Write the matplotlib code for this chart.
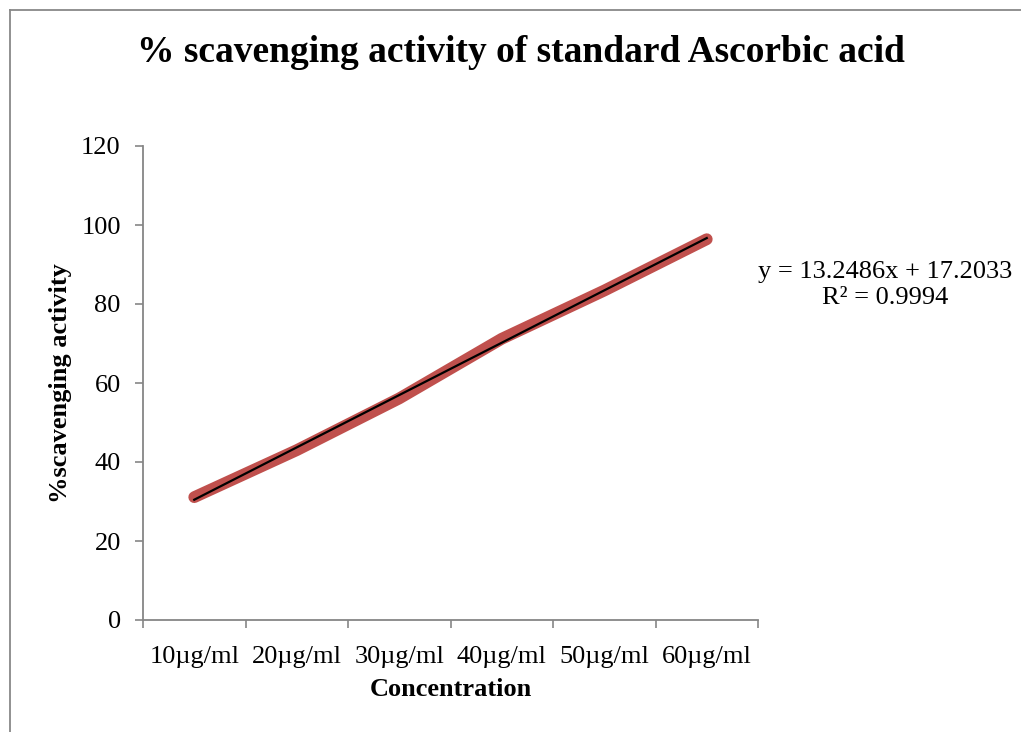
import matplotlib
matplotlib.use("Agg")
import matplotlib.pyplot as plt
from matplotlib.lines import Line2D
import numpy as np

plt.rcParams['font.family'] = ['Liberation Serif', 'DejaVu Serif']

categories = ["10µg/ml", "20µg/ml", "30µg/ml", "40µg/ml", "50µg/ml", "60µg/ml"]
scavenging = [31.1, 43.0, 56.1, 71.2, 83.4, 96.4]
trend_slope = 13.2486
trend_intercept = 17.2033
r_squared = 0.9994
y_ticks = [0, 20, 40, 60, 80, 100, 120]

W, H = 1021, 732
fig = plt.figure(figsize=(W / 100, H / 100), dpi=100)
L, R, T, B = 143, 758, 146, 620
ax = fig.add_axes([L / W, 1 - B / H, (R - L) / W, (B - T) / H])

x = np.arange(1, len(categories) + 1)
ax.plot(x, scavenging, color="#C0504D", lw=8.5, solid_capstyle="round",
        solid_joinstyle="round", zorder=2)
trend_y = trend_slope * x + trend_intercept
ax.plot(x, trend_y, color="black", lw=1.6, zorder=3)

ax.set_xlim(0.5, len(categories) + 0.5)
ax.set_ylim(0, 120)
ax.set_yticks(y_ticks)
ax.set_yticklabels([str(v) for v in y_ticks])
ax.set_xticks(np.arange(0.5, len(categories) + 1, 1.0))
ax.set_xticklabels([])
ax.set_xticks(x, minor=True)
ax.set_xticklabels(categories, minor=True)
ax.tick_params(axis="x", which="minor", length=0, pad=19, labelsize=19)
ax.tick_params(axis="x", which="major", length=6, color="#868686", width=1.2, direction="out")
ax.tick_params(axis="y", length=6, color="#868686", width=1.2, direction="out", labelsize=19, pad=10)
for s in ["top", "right"]:
    ax.spines[s].set_visible(False)
for s in ["left", "bottom"]:
    ax.spines[s].set_color("#868686")
    ax.spines[s].set_linewidth(1.3)

ax.set_xlabel("Concentration", fontsize=19, fontweight="bold")
ax.xaxis.label.set_va("center")
ax.xaxis.set_label_coords((451 - L) / (R - L), (B - 690) / (B - T))
ax.set_ylabel("%scavenging activity", fontsize=19, fontweight="bold")
ax.yaxis.label.set_va("center")
ax.yaxis.set_label_coords((61 - L) / (R - L), (B - 383) / (B - T))

fig.text(521 / W, 1 - 52 / H, "% scavenging activity of standard Ascorbic acid",
         ha="center", va="center", fontsize=27, fontweight="bold")
fig.text(885 / W, 1 - 285 / H, f"y = {trend_slope}x + {trend_intercept}\nR² = {r_squared}",
         ha="center", va="center", fontsize=19, linespacing=1.25)

fig.add_artist(Line2D([9.5 / W, 9.5 / W], [0, 1 - 9.5 / H], color="#888888", lw=1.3))
fig.add_artist(Line2D([9.5 / W, 1], [1 - 9.5 / H, 1 - 9.5 / H], color="#888888", lw=1.3))

fig.savefig("out.png", dpi=100)
